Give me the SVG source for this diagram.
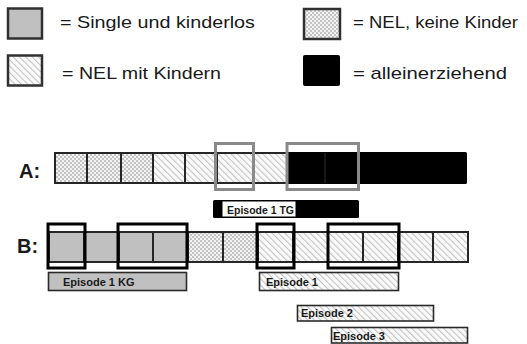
<svg xmlns="http://www.w3.org/2000/svg" width="527" height="344" viewBox="0 0 527 344">
<defs>
<pattern id="checker" width="4" height="4" patternUnits="userSpaceOnUse">
<rect width="4" height="4" fill="#f2f2f2"/>
<rect width="2" height="2" fill="#c4c4c4"/>
<rect x="2" y="2" width="2" height="2" fill="#c4c4c4"/>
</pattern>
<pattern id="hatch" width="4.5" height="4.5" patternUnits="userSpaceOnUse" patternTransform="rotate(-45)">
<rect width="4.5" height="4.5" fill="#fafafa"/>
<line x1="0.5" y1="0" x2="0.5" y2="4.5" stroke="#c2c2c2" stroke-width="1.1"/>
</pattern>
</defs>
<style>
.cell{stroke:#262626;stroke-width:2}
.gray{fill:#c0c0c0}
.chk{fill:url(#checker)}
.hat{fill:url(#hatch)}
.blk{fill:#000}
.lg{stroke:#303030;stroke-width:2.5}
.lt{font-family:"Liberation Sans",Arial,sans-serif;font-size:17px;fill:#1a1a1a}
.row{font-family:"Liberation Sans",Arial,sans-serif;font-size:20px;font-weight:bold;fill:#1a1a1a}
.ep{font-family:"Liberation Sans",Arial,sans-serif;font-size:11px;font-weight:bold;fill:#1a1a1a}
.epbar{stroke:#2a2a2a;stroke-width:1.6}
.hl{fill:none;stroke:#8a8a8a;stroke-width:3}
.bk{fill:none;stroke:#000;stroke-width:3}
</style>

<g id="legend">
<g id="legend-single">
<rect class="lg gray" x="8" y="8.5" width="34" height="30"/>
<text class="lt" x="60" y="28" textLength="195" lengthAdjust="spacingAndGlyphs">= Single und kinderlos</text>
</g>
<g id="legend-nel-kinder">
<rect class="lg hat" x="8" y="55.5" width="34" height="30"/>
<text class="lt" x="62" y="79" textLength="159" lengthAdjust="spacingAndGlyphs">= NEL mit Kindern</text>
</g>
<g id="legend-nel-keine">
<rect class="lg chk" x="304" y="9" width="36" height="30"/>
<text class="lt" x="353" y="28" textLength="165" lengthAdjust="spacingAndGlyphs">= NEL, keine Kinder</text>
</g>
<g id="legend-allein">
<rect x="303" y="55" width="37" height="31" rx="2" fill="#000"/>
<text class="lt" x="353" y="79" textLength="154" lengthAdjust="spacingAndGlyphs">= alleinerziehend</text>
</g>
</g>

<g id="rowA">
<text class="row" x="19" y="178">A:</text>
<rect class="cell chk" x="55" y="153" width="32" height="30"/>
<rect class="cell chk" x="87" y="153" width="34" height="30"/>
<rect class="cell chk" x="121" y="153" width="32" height="30"/>
<rect class="cell hat" x="153" y="153" width="32" height="30"/>
<rect class="cell hat" x="185" y="153" width="32" height="30"/>
<rect class="cell hat" x="217" y="153" width="36" height="30"/>
<rect class="cell hat" x="253" y="153" width="34" height="30"/>
<rect x="286" y="152" width="181" height="32" rx="1.5" fill="#000"/>
<line x1="325" y1="153" x2="325" y2="183" stroke="#3a3a3a" stroke-width="0.8"/>
</g>

<g id="highlightA">
<rect class="hl" x="215.5" y="143.5" width="38" height="46"/>
<rect class="hl" x="287" y="143.5" width="71.5" height="46"/>
</g>

<g id="episode1TG">
<rect x="213" y="200" width="146" height="18" rx="1.5" fill="#000"/>
<rect x="222.5" y="201.5" width="73" height="15" fill="#fff"/>
<text class="ep" x="227" y="214" textLength="67" lengthAdjust="spacingAndGlyphs">Episode 1 TG</text>
</g>

<g id="rowB">
<text class="row" x="17" y="253">B:</text>
<rect class="cell gray" x="49" y="232" width="35" height="30"/>
<rect class="cell gray" x="84" y="232" width="35" height="30"/>
<rect class="cell gray" x="119" y="232" width="34" height="30"/>
<rect class="cell gray" x="153" y="232" width="35" height="30"/>
<rect class="cell chk" x="188" y="232" width="35" height="30"/>
<rect class="cell chk" x="223" y="232" width="35" height="30"/>
<rect class="cell hat" x="258" y="232" width="35" height="30"/>
<rect class="cell hat" x="293" y="232" width="35" height="30"/>
<rect class="cell hat" x="328" y="232" width="35" height="30"/>
<rect class="cell hat" x="363" y="232" width="35" height="30"/>
<rect class="cell hat" x="398" y="232" width="35" height="30"/>
<rect class="cell hat" x="433" y="232" width="35" height="30"/>
</g>

<g id="boxesB">
<rect class="bk" x="48" y="224" width="37" height="44"/>
<rect class="bk" x="118" y="224" width="69" height="44"/>
<rect class="bk" x="257" y="224" width="37" height="44"/>
<rect class="bk" x="328" y="224" width="71" height="44"/>
</g>

<g id="episode1KG">
<rect class="epbar gray" x="48.5" y="272.5" width="138" height="18"/>
<text class="ep" x="63" y="286">Episode 1 KG</text>
</g>
<g id="episode1">
<rect class="epbar hat" x="259.5" y="272.5" width="139" height="18"/>
<text class="ep" x="266" y="286">Episode 1</text>
</g>
<g id="episode2">
<rect class="epbar hat" x="297.5" y="305.5" width="136" height="15.5"/>
<text class="ep" x="301" y="317">Episode 2</text>
</g>
<g id="episode3">
<rect class="epbar hat" x="331.5" y="327.5" width="136" height="15.5"/>
<text class="ep" x="333" y="340">Episode 3</text>
</g>
</svg>
